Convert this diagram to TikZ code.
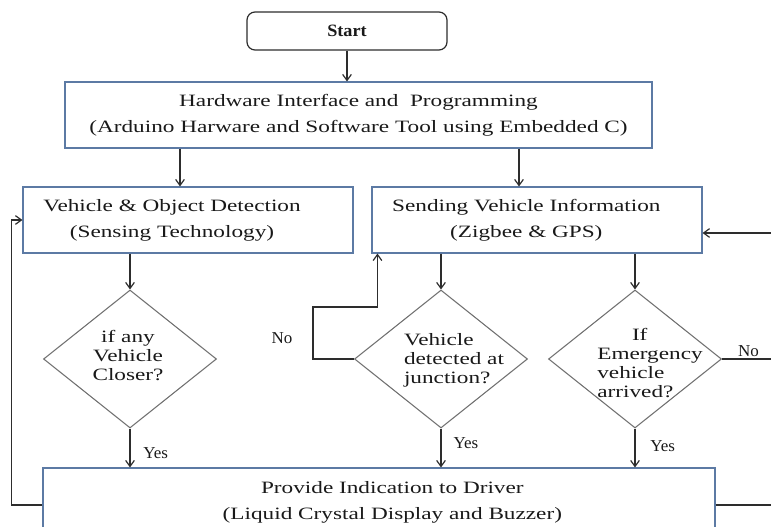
\documentclass[tikz,border=0pt]{standalone}
\usepackage{fontspec}
\setmainfont[FakeStretch=1.34]{Liberation Serif}
\newfontfamily\lblfont[FakeStretch=1.02]{Liberation Serif}
\newfontfamily\startfont[FakeStretch=1.05]{Liberation Serif}
\usetikzlibrary{arrows.meta,shapes.geometric}
\definecolor{boxblue}{RGB}{92,122,164}
\definecolor{diagrey}{RGB}{112,112,112}
\definecolor{linegrey}{RGB}{45,45,45}
\definecolor{inkdark}{RGB}{25,25,25}
\begin{document}
\begin{tikzpicture}[x=0.75pt,y=-0.75pt,
  >={Straight Barb[length=4.5pt,width=6.5pt]},
  font=\fontsize{13}{19.5}\selectfont, text=inkdark,
  startbox/.style={draw=linegrey, line width=0.9pt, rounded corners=6pt, minimum width=150pt, minimum height=28.5pt, font=\startfont\bfseries\fontsize{13}{14}\selectfont},
  box/.style={draw=boxblue, line width=0.8pt, minimum width=#1, minimum height=49.5pt, align=center, inner sep=0pt},
  decision/.style={diamond, draw=diagrey, line width=0.8pt, minimum width=129.75pt, minimum height=103.5pt, inner sep=0pt},
  dtext/.style={font=\fontsize{13}{14.25}\selectfont, align=left},
  lbl/.style={font=\lblfont\fontsize{12.5}{13}\selectfont, inner sep=1pt},
  conn/.style={draw=linegrey, line width=0.9pt}]
\useasboundingbox (0,0) rectangle (771,527);
\begin{scope}
\clip (0,0) rectangle (771,527);

% process boxes
\node[startbox] (start) at (347,31) {Start};
\node[box=440.25pt] (hw) at (358.5,115) {Hardware Interface and~ Programming\\(Arduino Harware and Software Tool using Embedded C)};
\node[box=247.5pt, label={[xshift=-12pt,align=center]center:{Vehicle \& Object Detection\\(Sensing Technology)}}] (veh) at (188,220) {};
\node[box=247.5pt, label={[xshift=-8pt,align=center]center:{Sending Vehicle Information\\(Zigbee \& GPS)}}] (send) at (537,220) {};
\node[box=504pt, minimum height=55.5pt, label={[xshift=10pt,yshift=1.9pt,align=center]center:{Provide Indication to Driver\\(Liquid Crystal Display and Buzzer)}}] (bot) at (379,505) {};

% decisions
\node[decision, label={[dtext,align=center,xshift=-1.5pt,yshift=2.25pt]center:{if any\\Vehicle\\Closer?}}] (d1) at (130,359) {};
\node[decision, label={[dtext,xshift=9.75pt,yshift=-0.75pt]center:{Vehicle\\detected at\\junction?}}] (d2) at (441,359) {};
\node[decision, label={[dtext,xshift=11.25pt,yshift=-3pt]center:{\hspace*{26pt}If\\Emergency\\vehicle\\arrived?}}] (d3) at (635,359) {};

% connectors
\draw[conn,->] (start.south) -- (start.south |- hw.north);
\draw[conn,->] ([xshift=-6pt]veh.north |- hw.south) -- ([xshift=-6pt]veh.north);
\draw[conn,->] ([xshift=-13.5pt]send.north |- hw.south) -- ([xshift=-13.5pt]send.north);
\draw[conn,->] (d1.north |- veh.south) -- (d1.north);
\draw[conn,->] (d2.north |- send.south) -- (d2.north);
\draw[conn,->] (d3.north |- send.south) -- (d3.north);

\draw[conn,->] (d1.south) -- (d1.south |- bot.north) node[lbl,anchor=west,pos=0.62,xshift=8.5pt] (yes1) {Yes};
\draw[conn,->] (d2.south) -- (d2.south |- bot.north) node[lbl,anchor=west,pos=0.38,xshift=8pt] (yes2) {Yes};
\draw[conn,->] (d3.south) -- (d3.south |- bot.north) node[lbl,anchor=west,pos=0.45,xshift=10pt] (yes3) {Yes};

% loop backs
\coordinate (noturn) at (313,307);
\draw[conn,->] (d2.west) -| (noturn) -| ([xshift=4.5pt]send.south west);
\node[lbl] (no2) at (282,338) {No};

\coordinate (rail) at (790,233);
\draw[conn] (d3.east) -- (d3.east -| rail) node[lbl,above,pos=0.39] (no3) {No};
\draw[conn,->] (bot.east) -| (rail) -- (send.east |- rail);
\draw[conn,->] (bot.west) -- ++(-23.25pt,0) |- (veh.west);
\end{scope}
\end{tikzpicture}
\end{document}
